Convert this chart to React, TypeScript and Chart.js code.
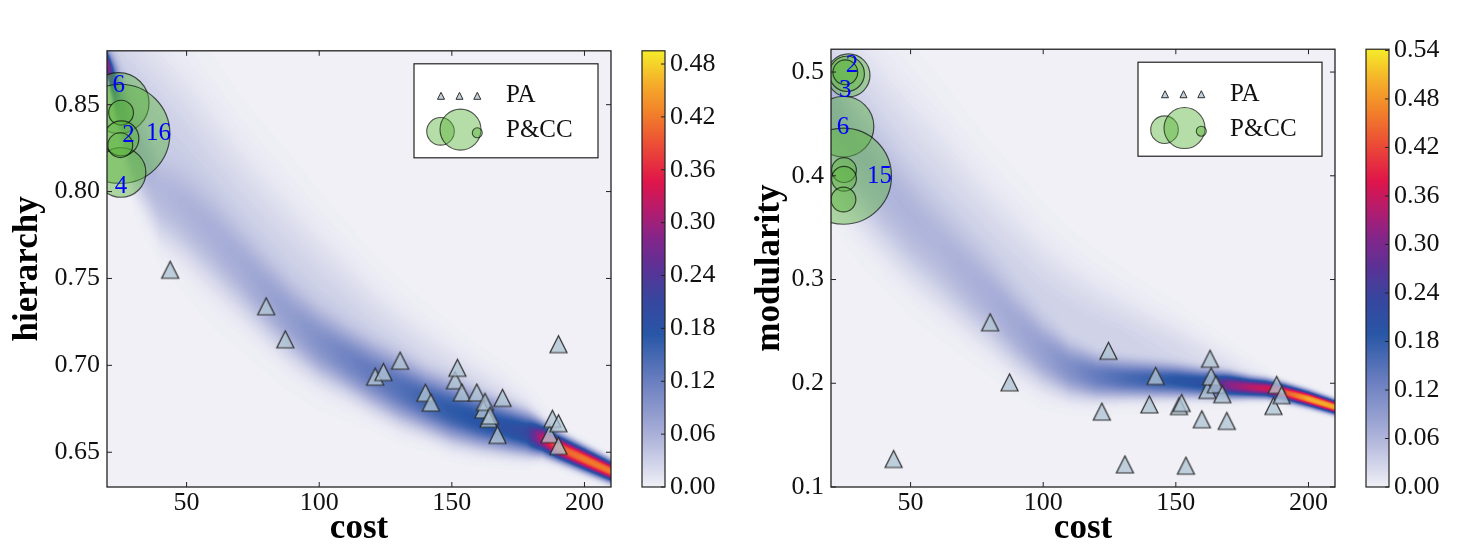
import React, { useEffect, useRef } from "react";
import { Chart, registerables } from "chart.js";

Chart.register(...registerables);

const FONT = "'Liberation Serif', 'DejaVu Serif', serif";
Chart.defaults.font.family = FONT;

// ---------------- shared data ----------------
const costTicks = [50, 100, 150, 200];
const ridgeCost = [20, 25, 30, 40, 50, 60, 70, 80, 90, 100, 110, 120, 130, 140, 150, 160, 170, 178, 184, 190, 200, 210];

// ---------------- left panel: hierarchy ----------------
const hierTicks = [0.65, 0.7, 0.75, 0.8, 0.85];
const hierCbTicks = [0, 0.06, 0.12, 0.18, 0.24, 0.3, 0.36, 0.42, 0.48];
const paHierCost = [43.8, 80.0, 87.2, 121.1, 124.2, 130.5, 140.0, 142.1, 151.2, 152.1, 153.8, 159.4, 161.9, 162.5, 163.8, 164.4, 167.2, 169.1, 186.8, 187.9, 190.2, 190.2, 190.2];
const paHierValue = [0.755, 0.734, 0.715, 0.6935, 0.6962, 0.7027, 0.6842, 0.6786, 0.6914, 0.6986, 0.6844, 0.6844, 0.6746, 0.679, 0.6693, 0.6711, 0.66, 0.6813, 0.6604, 0.6693, 0.6667, 0.6537, 0.7122];
const pccHierCost = [24.4, 25.0, 25.3, 25.3, 25.4, 25.0];
const pccHierValue = [0.851, 0.8332, 0.811, 0.8454, 0.8306, 0.8267];
const pccHierCount = [6, 16, 4, 1, 2, 1];
const pccHierLabel = ["6", "2", "16", "4"];
const pccHierLabelCost = [24.4, 28.1, 39.4, 25.3];
const pccHierLabelValue = [0.861, 0.8323, 0.8332, 0.803];
const hierRidgeCenter = [0.874, 0.85, 0.825, 0.797, 0.785, 0.771, 0.755, 0.739, 0.724, 0.712, 0.703, 0.694, 0.686, 0.679, 0.673, 0.668, 0.664, 0.661, 0.658, 0.653, 0.646, 0.639];
const hierRidgeSpread = [0.005, 0.012, 0.016, 0.017, 0.017, 0.017, 0.016, 0.015, 0.014, 0.013, 0.012, 0.012, 0.012, 0.011, 0.011, 0.01, 0.009, 0.008, 0.006, 0.005, 0.0045, 0.004];
const hierRidgePeak = [0.27, 0.09, 0.05, 0.042, 0.04, 0.04, 0.045, 0.055, 0.065, 0.08, 0.095, 0.11, 0.125, 0.145, 0.16, 0.172, 0.18, 0.2, 0.32, 0.4, 0.42, 0.42];
const hierHaloCenter = [0.877, 0.87, 0.86, 0.84, 0.82, 0.8, 0.783, 0.767, 0.752, 0.738, 0.726, 0.716, 0.707, 0.699, 0.692, 0.685, 0.679, 0.674, 0.67, 0.665, 0.656, 0.648];
const hierHaloSpread = [0.006, 0.016, 0.022, 0.027, 0.03, 0.03, 0.028, 0.027, 0.026, 0.024, 0.022, 0.019, 0.017, 0.015, 0.013, 0.011, 0.01, 0.008, 0.006, 0.005, 0.005, 0.005];
const hierHaloPeak = [0.05, 0.03, 0.03, 0.03, 0.03, 0.03, 0.03, 0.03, 0.03, 0.03, 0.03, 0.028, 0.026, 0.024, 0.022, 0.02, 0.015, 0.01, 0.005, 0, 0, 0];

// ---------------- right panel: modularity ----------------
const modTicks = [0.1, 0.2, 0.3, 0.4, 0.5];
const modCbTicks = [0, 0.06, 0.12, 0.18, 0.24, 0.3, 0.36, 0.42, 0.48, 0.54];
const paModCost = [43.6, 80.0, 87.3, 122.1, 124.6, 130.8, 140.0, 142.4, 151.2, 152.2, 153.8, 159.8, 161.9, 162.9, 163.3, 165.1, 167.5, 169.2, 186.8, 188.0, 189.9];
const paModValue = [0.127, 0.2588, 0.2009, 0.1727, 0.2313, 0.1218, 0.1796, 0.2071, 0.178, 0.181, 0.1206, 0.1653, 0.1936, 0.2236, 0.2066, 0.199, 0.1895, 0.1637, 0.1781, 0.1985, 0.1886];
const pccModCost = [26.6, 26.0, 25.4, 24.7, 24.7, 24.9, 24.9, 24.7];
const pccModValue = [0.4968, 0.4983, 0.4997, 0.4474, 0.3996, 0.4055, 0.3971, 0.3771];
const pccModCount = [3, 2, 1, 6, 15, 1, 1, 1];
const pccModLabel = ["2", "3", "6", "15"];
const pccModLabelCost = [27.9, 25.4, 24.5, 38.3];
const pccModLabelValue = [0.5066, 0.4827, 0.4468, 0.3996];
const modRidgeCenter = [0.45, 0.43, 0.41, 0.378, 0.35, 0.325, 0.3, 0.276, 0.25, 0.228, 0.213, 0.206, 0.204, 0.203, 0.202, 0.2, 0.198, 0.196, 0.195, 0.192, 0.185, 0.177];
const modRidgeSpread = [0.04, 0.04, 0.038, 0.036, 0.034, 0.032, 0.03, 0.028, 0.025, 0.021, 0.017, 0.014, 0.012, 0.011, 0.01, 0.009, 0.008, 0.0065, 0.006, 0.0055, 0.005, 0.0045];
const modRidgePeak = [0.04, 0.04, 0.04, 0.04, 0.04, 0.04, 0.045, 0.05, 0.06, 0.075, 0.1, 0.125, 0.145, 0.16, 0.18, 0.195, 0.3, 0.34, 0.36, 0.42, 0.5, 0.5];
const modHaloCenter = [0.48, 0.47, 0.46, 0.43, 0.4, 0.375, 0.35, 0.325, 0.302, 0.28, 0.265, 0.252, 0.242, 0.234, 0.227, 0.22, 0.213, 0.207, 0.203, 0.198, 0.19, 0.18];
const modHaloSpread = [0.04, 0.045, 0.05, 0.05, 0.05, 0.048, 0.045, 0.042, 0.04, 0.037, 0.033, 0.03, 0.027, 0.024, 0.021, 0.017, 0.013, 0.01, 0.008, 0.006, 0.005, 0.005];
const modHaloPeak = [0.03, 0.03, 0.03, 0.03, 0.03, 0.03, 0.03, 0.03, 0.03, 0.03, 0.03, 0.03, 0.03, 0.028, 0.025, 0.02, 0.015, 0.01, 0.005, 0, 0, 0];

// ---------------- styles ----------------
const CMAP_POS = [0, 0.12, 0.24, 0.35, 0.43, 0.5, 0.57, 0.64, 0.7, 0.78, 0.86, 0.93, 1];
const CMAP_COL = ["#f0f0f6", "#aab0d8", "#6b7fc0", "#2856a6", "#37469e", "#5a3296", "#84258a", "#b81b6a", "#e0154a", "#eb4a36", "#f2822a", "#f5b12a", "#f5ec2a"];
const BUBBLE_UNIT = 12.4;
const TRI_FILL = "rgba(176,196,212,0.78)";
const TRI_EDGE = "#2e2e2e";
const BUBBLE_FILL = "rgba(90,180,60,0.45)";
const BUBBLE_EDGE = "rgba(0,0,0,0.65)";
const AXIS_COLOR = "#222";
const TEXT_COLOR = "#111";

function hexToRgb(h: string) {
  return [parseInt(h.slice(1, 3), 16), parseInt(h.slice(3, 5), 16), parseInt(h.slice(5, 7), 16)];
}
const LUT: number[][] = (() => {
  const rgb = CMAP_COL.map(hexToRgb);
  const out: number[][] = [];
  for (let i = 0; i < 256; i++) {
    const t = i / 255;
    let k = 1;
    while (k < CMAP_POS.length - 1 && t > CMAP_POS[k]) k++;
    const a = CMAP_POS[k - 1], b = CMAP_POS[k];
    const f = (t - a) / (b - a);
    out.push([0, 1, 2].map((c) => Math.round(rgb[k - 1][c] + f * (rgb[k][c] - rgb[k - 1][c]))));
  }
  return out;
})();

function interp(xs: number[], ys: number[], x: number) {
  if (x <= xs[0]) return ys[0];
  for (let i = 1; i < xs.length; i++) {
    if (x <= xs[i]) {
      const t = (x - xs[i - 1]) / (xs[i] - xs[i - 1]);
      return ys[i - 1] + t * (ys[i] - ys[i - 1]);
    }
  }
  return ys[ys.length - 1];
}

function makeTriangle(size: number) {
  const pad = 2;
  const c = document.createElement("canvas");
  c.width = size + 2 * pad;
  c.height = size + 2 * pad;
  const g = c.getContext("2d")!;
  g.beginPath();
  g.moveTo(c.width / 2, pad);
  g.lineTo(pad + size, pad + size);
  g.lineTo(pad, pad + size);
  g.closePath();
  g.fillStyle = TRI_FILL;
  g.fill();
  g.lineWidth = 1.2;
  g.strokeStyle = TRI_EDGE;
  g.stroke();
  return c;
}

type Panel = {
  yTitle: string; yMin: number; yMax: number; yTicks: number[]; yDec: number;
  cbMax: number; cbTicks: number[];
  paCost: number[]; paValue: number[];
  pccCost: number[]; pccValue: number[]; pccCount: number[];
  labText: string[]; labCost: number[]; labValue: number[];
  rc: number[]; rs: number[]; rp: number[]; hc: number[]; hs: number[]; hp: number[];
  width: number; yAxisW: number; plotRight: number; yTitlePad: number;
};

const hierPanel: Panel = {
  yTitle: "hierarchy", yMin: 0.63, yMax: 0.881, yTicks: hierTicks, yDec: 2,
  cbMax: 0.495, cbTicks: hierCbTicks,
  paCost: paHierCost, paValue: paHierValue,
  pccCost: pccHierCost, pccValue: pccHierValue, pccCount: pccHierCount,
  labText: pccHierLabel, labCost: pccHierLabelCost, labValue: pccHierLabelValue,
  rc: hierRidgeCenter, rs: hierRidgeSpread, rp: hierRidgePeak,
  hc: hierHaloCenter, hs: hierHaloSpread, hp: hierHaloPeak,
  width: 720, yAxisW: 107, plotRight: 611, yTitlePad: 10.5,
};
const modPanel: Panel = {
  yTitle: "modularity", yMin: 0.1, yMax: 0.522, yTicks: modTicks, yDec: 1,
  cbMax: 0.5415, cbTicks: modCbTicks,
  paCost: paModCost, paValue: paModValue,
  pccCost: pccModCost, pccValue: pccModValue, pccCount: pccModCount,
  labText: pccModLabel, labCost: pccModLabelCost, labValue: pccModLabelValue,
  rc: modRidgeCenter, rs: modRidgeSpread, rp: modRidgePeak,
  hc: modHaloCenter, hs: modHaloSpread, hp: modHaloPeak,
  width: 740, yAxisW: 111, plotRight: 615, yTitlePad: 32.5,
};

function panelPlugin(p: Panel) {
  return {
    id: "panelDecor",
    beforeDatasetsDraw(chart: any) {
      const { ctx, chartArea: ca, scales } = chart;
      const xs = scales.x, ys = scales.y;
      const l = Math.round(ca.left), t = Math.round(ca.top);
      const w = Math.round(ca.right) - l, h = Math.round(ca.bottom) - t;
      const off = document.createElement("canvas");
      off.width = w; off.height = h;
      const octx = off.getContext("2d")!;
      const img = octx.createImageData(w, h);
      for (let i = 0; i < w; i++) {
        const xv = xs.getValueForPixel(l + i + 0.5);
        const c1 = interp(ridgeCost, p.rc, xv), s1 = interp(ridgeCost, p.rs, xv), a1 = interp(ridgeCost, p.rp, xv);
        const c2 = interp(ridgeCost, p.hc, xv), s2 = interp(ridgeCost, p.hs, xv), a2 = interp(ridgeCost, p.hp, xv);
        for (let j = 0; j < h; j++) {
          const yv = ys.getValueForPixel(t + j + 0.5);
          const d1 = Math.abs(yv - c1) / s1, d2 = (yv - c2) / s2;
          const v = a1 * Math.exp(-0.5 * Math.pow(d1, 2.4)) + a2 * Math.exp(-0.5 * d2 * d2);
          const k = Math.max(0, Math.min(255, Math.round((v / p.cbMax) * 255)));
          const col = LUT[k];
          const o = (j * w + i) * 4;
          img.data[o] = col[0]; img.data[o + 1] = col[1]; img.data[o + 2] = col[2]; img.data[o + 3] = 255;
        }
      }
      octx.putImageData(img, 0, 0);
      ctx.drawImage(off, l, t);
    },
    afterDatasetsDraw(chart: any) {
      const { ctx, chartArea: ca, scales } = chart;
      const xs = scales.x, ys = scales.y, cb = scales.cb;
      ctx.save();
      // bubble labels
      ctx.fillStyle = "#0000ff";
      ctx.font = `25px ${FONT}`;
      ctx.textAlign = "center";
      ctx.textBaseline = "middle";
      p.labText.forEach((s, i) => {
        ctx.fillText(s, xs.getPixelForValue(p.labCost[i]), ys.getPixelForValue(p.labValue[i]));
      });
      // frame
      ctx.strokeStyle = AXIS_COLOR;
      ctx.lineWidth = 1.3;
      ctx.strokeRect(ca.left, ca.top, ca.right - ca.left, ca.bottom - ca.top);
      // inward ticks
      ctx.lineWidth = 1;
      ctx.beginPath();
      const TL = 5;
      costTicks.forEach((v) => {
        const px = xs.getPixelForValue(v);
        ctx.moveTo(px, ca.bottom); ctx.lineTo(px, ca.bottom - TL);
        ctx.moveTo(px, ca.top); ctx.lineTo(px, ca.top + TL);
      });
      p.yTicks.forEach((v) => {
        const py = ys.getPixelForValue(v);
        ctx.moveTo(ca.left, py); ctx.lineTo(ca.left + TL, py);
        ctx.moveTo(ca.right, py); ctx.lineTo(ca.right - TL, py);
      });
      ctx.stroke();
      // colorbar
      const cl = ca.right + 31, cw = 23;
      const ctop = cb.getPixelForValue(p.cbMax), cbot = cb.getPixelForValue(0);
      const grad = ctx.createLinearGradient(0, cbot, 0, ctop);
      CMAP_POS.forEach((pos, i) => grad.addColorStop(pos, CMAP_COL[i]));
      ctx.fillStyle = grad;
      ctx.fillRect(cl, ctop, cw, cbot - ctop);
      ctx.strokeStyle = AXIS_COLOR;
      ctx.lineWidth = 1.2;
      ctx.strokeRect(cl, ctop, cw, cbot - ctop);
      ctx.lineWidth = 1;
      ctx.beginPath();
      p.cbTicks.forEach((v) => {
        const py = cb.getPixelForValue(v);
        ctx.moveTo(cl + cw, py); ctx.lineTo(cl + cw - 4, py);
      });
      ctx.stroke();
      // legend
      const bw = 184, bh = 94;
      const bx = ca.right - 13 - bw, by = ca.top + 13;
      ctx.fillStyle = "#ffffff";
      ctx.fillRect(bx, by, bw, bh);
      ctx.strokeStyle = AXIS_COLOR;
      ctx.lineWidth = 1.2;
      ctx.strokeRect(bx, by, bw, bh);
      [27, 45.5, 63.3].forEach((dx) => {
        const cx = bx + dx, cy = by + 32, s = 7;
        ctx.beginPath();
        ctx.moveTo(cx, cy - s / 2);
        ctx.lineTo(cx + s / 2, cy + s / 2);
        ctx.lineTo(cx - s / 2, cy + s / 2);
        ctx.closePath();
        ctx.fillStyle = TRI_FILL;
        ctx.fill();
        ctx.strokeStyle = TRI_EDGE;
        ctx.lineWidth = 1;
        ctx.stroke();
      });
      [[26.5, 67.5, 13.8], [46.5, 65.8, 20.5], [63.3, 69, 5]].forEach(([dx, dy, r]) => {
        ctx.beginPath();
        ctx.arc(bx + dx, by + dy, r, 0, Math.PI * 2);
        ctx.fillStyle = BUBBLE_FILL;
        ctx.fill();
        ctx.strokeStyle = BUBBLE_EDGE;
        ctx.lineWidth = 1.1;
        ctx.stroke();
      });
      ctx.fillStyle = TEXT_COLOR;
      ctx.font = `25px ${FONT}`;
      ctx.textAlign = "left";
      ctx.textBaseline = "middle";
      const labels = chart.data.datasets.map((d: any) => d.label);
      ctx.fillText(labels[0], bx + 92, by + 32);
      ctx.fillText(labels[1], bx + 92, by + 67);
      ctx.restore();
    },
  };
}

function buildConfig(p: Panel): any {
  const tri = makeTriangle(17);
  const zeroPad = (s: any) => { s.paddingTop = 0; s.paddingBottom = 0; s.paddingLeft = 0; s.paddingRight = 0; };
  const tickFont = { size: 26, family: FONT };
  return {
    type: "scatter",
    data: {
      datasets: [
        {
          type: "scatter",
          label: "PA",
          data: p.paCost.map((c, i) => ({ x: c, y: p.paValue[i] })),
          pointStyle: tri,
          pointRadius: 9,
          clip: 0,
        },
        {
          type: "bubble",
          label: "P&CC",
          data: p.pccCost.map((c, i) => ({ x: c, y: p.pccValue[i], r: BUBBLE_UNIT * Math.sqrt(p.pccCount[i]) })),
          backgroundColor: BUBBLE_FILL,
          borderColor: BUBBLE_EDGE,
          borderWidth: 1.2,
          clip: 0,
        },
      ],
    },
    options: {
      responsive: false,
      animation: false,
      devicePixelRatio: 1,
      events: [],
      layout: { padding: { top: 17, left: 0, right: 0, bottom: 0 } },
      plugins: { legend: { display: false }, tooltip: { enabled: false } },
      scales: {
        x: {
          type: "linear", position: "bottom", min: 20, max: 210,
          grid: { display: false, drawTicks: false }, border: { display: false },
          ticks: { padding: 1, font: tickFont, color: TEXT_COLOR, maxRotation: 0, autoSkip: false, callback: (v: any) => String(v) },
          afterBuildTicks: (s: any) => { s.ticks = costTicks.map((v) => ({ value: v })); },
          afterFit: (s: any) => { s.height = 59; zeroPad(s); },
          title: { display: true, text: "cost", color: "#000", font: { size: 35, weight: "bold", family: FONT, lineHeight: 1 }, padding: { top: 0, bottom: 0 } },
        },
        y: {
          type: "linear", position: "left", min: p.yMin, max: p.yMax,
          grid: { display: false, drawTicks: false }, border: { display: false },
          ticks: { padding: 7, font: tickFont, color: TEXT_COLOR, autoSkip: false, callback: (v: any) => Number(v).toFixed(p.yDec) },
          afterBuildTicks: (s: any) => { s.ticks = p.yTicks.map((v) => ({ value: v })); },
          afterFit: (s: any) => { s.width = p.yAxisW; zeroPad(s); },
          title: { display: true, text: p.yTitle, color: "#000", font: { size: 35, weight: "bold", family: FONT, lineHeight: 1 }, padding: { top: p.yTitlePad, bottom: 0 } },
        },
        cb: {
          type: "linear", position: "right", min: 0, max: p.cbMax,
          grid: { display: false, drawTicks: false }, border: { display: false },
          ticks: { padding: 59, font: tickFont, color: TEXT_COLOR, autoSkip: false, callback: (v: any) => Number(v).toFixed(2) },
          afterBuildTicks: (s: any) => { s.ticks = p.cbTicks.map((v) => ({ value: v })); },
          afterFit: (s: any) => { s.width = p.width - p.plotRight; zeroPad(s); },
        },
      },
    },
    plugins: [panelPlugin(p)],
  };
}

function PanelChart({ panel, left }: { panel: Panel; left: number }) {
  const ref = useRef<HTMLCanvasElement>(null);
  useEffect(() => {
    const chart = new Chart(ref.current!, buildConfig(panel));
    return () => chart.destroy();
  }, [panel]);
  return (
    <canvas
      ref={ref}
      width={panel.width}
      height={546}
      style={{ position: "absolute", left, top: 0, width: panel.width, height: 546, display: "block" }}
    />
  );
}

export default function App() {
  return (
    <div style={{ position: "fixed", left: 0, top: 0, width: 1460, height: 546, background: "#ffffff", overflow: "hidden" }}>
      <PanelChart panel={hierPanel} left={0} />
      <PanelChart panel={modPanel} left={720} />
    </div>
  );
}
